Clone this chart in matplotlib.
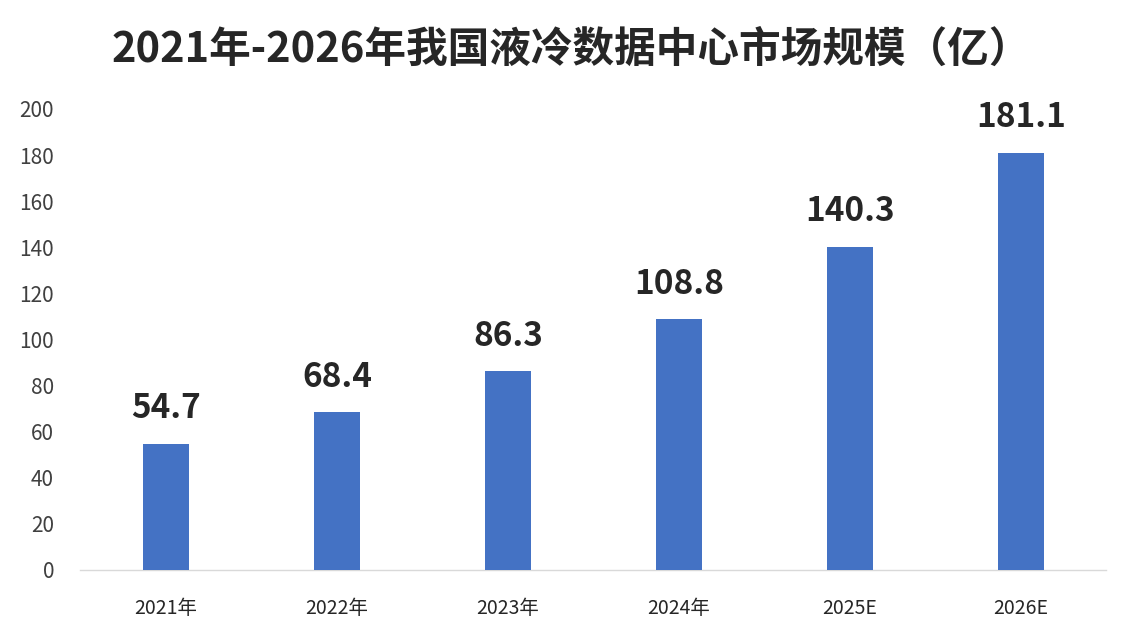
import matplotlib
matplotlib.use("Agg")
import matplotlib.pyplot as plt

plt.rcParams['font.family'] = ['Noto Sans CJK SC', 'DejaVu Sans']

categories = ["2021年", "2022年", "2023年", "2024年", "2025E", "2026E"]
values = [54.7, 68.4, 86.3, 108.8, 140.3, 181.1]
yticks = [0, 20, 40, 60, 80, 100, 120, 140, 160, 180, 200]
title = "2021年-2026年我国液冷数据中心市场规模（亿）"

fig = plt.figure(figsize=(11.38, 6.4), dpi=100)
fig.patch.set_facecolor("white")
ax = fig.add_axes([0.0707, 0.1094, 0.9016, 0.7203])

x = list(range(len(categories)))
bars = ax.bar(x, values, width=0.27, color="#4472C4", zorder=3)
for xi, v in zip(x, values):
    ax.text(xi, v + 8, f"{v:.1f}", ha="center", va="bottom", fontsize=24,
            fontweight="bold", color="#262626", clip_on=False)

ax.set_xlim(-0.5, len(categories) - 0.5)
ax.set_ylim(0, 200)
ax.set_yticks(yticks)
ax.set_yticklabels([str(t) for t in yticks], fontsize=15, color="#404040")
ax.set_xticks(x)
ax.set_xticklabels(categories, fontsize=14, color="#262626")
ax.tick_params(axis="both", length=0)
ax.tick_params(axis="y", pad=19)
ax.tick_params(axis="x", pad=20)
for s in ["top", "right", "left"]:
    ax.spines[s].set_visible(False)
ax.spines["bottom"].set_color("#D9D9D9")
ax.spines["bottom"].set_linewidth(1)

fig.text(0.502, 0.922, title, ha="center", va="center", fontsize=30,
         fontweight="bold", color="#262626")

fig.savefig("out.png", dpi=100, facecolor="white")
